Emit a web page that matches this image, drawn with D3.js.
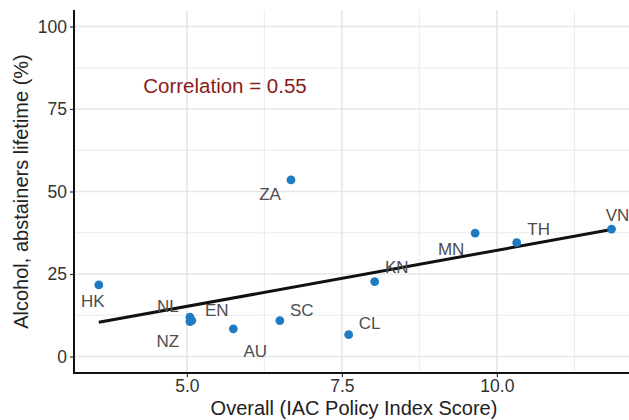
<!DOCTYPE html>
<html>
<head>
<meta charset="utf-8">
<script src="https://cdn.jsdelivr.net/npm/d3@7"></script>
<style>
  body { margin: 0; background: #fff; }
  svg { display: block; font-family: "Liberation Sans", Arial, sans-serif; }
</style>
</head>
<body>
<svg width="629" height="420"></svg>
<script>
// country codes, policy score (x), lifetime abstainers % (y)
const countries = ["HK", "NL", "EN", "NZ", "AU", "SC", "ZA", "CL", "KN", "MN", "TH", "VN"];
const policyScore = [3.58, 5.05, 5.08, 5.05, 5.75, 6.5, 6.68, 7.61, 8.03, 9.65, 10.32, 11.85];
const abstainers = [21.7, 11.9, 10.9, 10.6, 8.4, 10.9, 53.5, 6.6, 22.7, 37.4, 34.5, 38.6];
// label offsets (px) as placed in the original
const labelDx = [-6, -22, 25, -22, 22, 22, -21, 21, 22, -24, 22, 6];
const labelDy = [17, -11, -10, 20, 23, -10, 15, -11, -14, 16, -13, -14];
const xTicks = [5.0, 7.5, 10.0];
const yTicks = [0, 25, 50, 75, 100];
const corrText = "Correlation = 0.55";

const data = countries.map((c, i) => ({ code: c, x: policyScore[i], y: abstainers[i], dx: labelDx[i], dy: labelDy[i] }));

const svg = d3.select("svg");
const pLeft = 74, pTop = 10, pBottom = 373;

const x = d3.scaleLinear().domain([3.18, 12.23]).range([pLeft, pLeft + (12.23 - 3.18) * 62]);
const y = d3.scaleLinear().domain([-5, 105]).range([pBottom, pTop]);

svg.append("defs").append("clipPath").attr("id", "panel")
  .append("rect").attr("x", pLeft).attr("y", pTop).attr("width", 629 - pLeft).attr("height", pBottom - pTop);

const panel = svg.append("g").attr("clip-path", "url(#panel)");

// minor grid
const xMinor = [2.5, 6.25, 8.75, 11.25];
const yMinor = [12.5, 37.5, 62.5, 87.5];
panel.selectAll(".xminor").data(xMinor).enter().append("line")
  .attr("x1", d => x(d)).attr("x2", d => x(d)).attr("y1", pTop).attr("y2", pBottom)
  .attr("stroke", "#EBEBEB").attr("stroke-width", 1);
panel.selectAll(".yminor").data(yMinor).enter().append("line")
  .attr("x1", pLeft).attr("x2", 629).attr("y1", d => y(d)).attr("y2", d => y(d))
  .attr("stroke", "#EBEBEB").attr("stroke-width", 1);
// major grid
panel.selectAll(".xmajor").data(xTicks).enter().append("line")
  .attr("x1", d => x(d)).attr("x2", d => x(d)).attr("y1", pTop).attr("y2", pBottom)
  .attr("stroke", "#E6E6E6").attr("stroke-width", 1.6);
panel.selectAll(".ymajor").data(yTicks).enter().append("line")
  .attr("x1", pLeft).attr("x2", 629).attr("y1", d => y(d)).attr("y2", d => y(d))
  .attr("stroke", "#E6E6E6").attr("stroke-width", 1.6);

// least squares fit
const mx = d3.mean(data, d => d.x), my = d3.mean(data, d => d.y);
const slope = d3.sum(data, d => (d.x - mx) * (d.y - my)) / d3.sum(data, d => (d.x - mx) ** 2);
const icpt = my - slope * mx;
const xr = d3.extent(data, d => d.x);
panel.append("line")
  .attr("x1", x(xr[0])).attr("y1", y(icpt + slope * xr[0]))
  .attr("x2", x(xr[1])).attr("y2", y(icpt + slope * xr[1]))
  .attr("stroke", "#111").attr("stroke-width", 3);

panel.selectAll("circle").data(data).enter().append("circle")
  .attr("cx", d => x(d.x)).attr("cy", d => y(d.y)).attr("r", 4.4)
  .attr("fill", "#1F7BC1");

panel.selectAll(".lab").data(data).enter().append("text")
  .attr("x", d => x(d.x) + d.dx).attr("y", d => y(d.y) + d.dy)
  .attr("text-anchor", "middle").attr("dominant-baseline", "central")
  .attr("font-size", 17).attr("fill", "#4D4D4D")
  .text(d => d.code);

panel.append("text")
  .attr("x", 225).attr("y", 85).attr("text-anchor", "middle").attr("dominant-baseline", "central")
  .attr("font-size", 20.5).attr("fill", "#8B1A1A").text(corrText);

// axes
const xAxis = svg.append("g").attr("transform", `translate(0,${pBottom})`)
  .call(d3.axisBottom(x).tickValues(xTicks).tickFormat(d3.format(".1f")).tickSize(4).tickPadding(3));
const yAxis = svg.append("g").attr("transform", `translate(${pLeft},0)`)
  .call(d3.axisLeft(y).tickValues(yTicks).tickSize(4).tickPadding(3));
[xAxis, yAxis].forEach(a => {
  a.select(".domain").remove();
  a.selectAll(".tick line").attr("stroke", "#333").attr("stroke-width", 1.2);
  a.selectAll("text").attr("font-size", 17.5).attr("fill", "#333").attr("font-family", "Liberation Sans, Arial, sans-serif");
});
svg.append("line").attr("x1", pLeft).attr("x2", pLeft).attr("y1", pTop).attr("y2", pBottom + 1)
  .attr("stroke", "#111").attr("stroke-width", 2);
svg.append("line").attr("x1", pLeft - 1).attr("x2", 629).attr("y1", pBottom).attr("y2", pBottom)
  .attr("stroke", "#111").attr("stroke-width", 2);

svg.append("text").attr("x", 354).attr("y", 414.5).attr("text-anchor", "middle")
  .attr("font-size", 20).attr("fill", "#222").text("Overall (IAC Policy Index Score)");
svg.append("text").attr("transform", `translate(21,${(pTop + pBottom) / 2}) rotate(-90)`)
  .attr("text-anchor", "middle").attr("dominant-baseline", "central")
  .attr("font-size", 20).attr("fill", "#222").text("Alcohol, abstainers lifetime (%)");
</script>
</body>
</html>
